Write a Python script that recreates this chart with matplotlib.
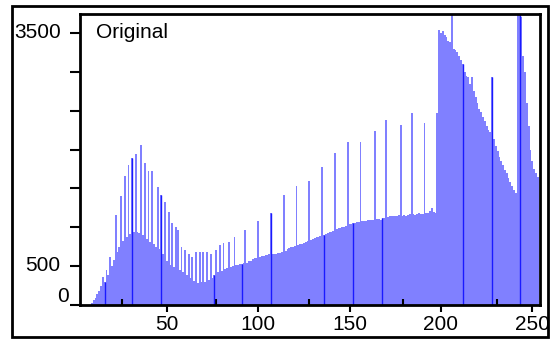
import matplotlib
matplotlib.use('Agg')
import matplotlib.pyplot as plt
import matplotlib.transforms as mtransforms
from matplotlib.patches import Rectangle
import numpy as np

plt.rcParams['font.family'] = ['Liberation Sans', 'DejaVu Sans']

# histogram counts for grey levels 0..255
counts = [
    0, 0, 0, 0, 0, 0, 0, 0, 0, 30,
    60, 90, 140, 180, 250, 360, 300, 450, 380, 620,
    500, 580, 1160, 680, 740, 1400, 820, 1660, 870, 1800,
    910, 1890, 940, 1940, 940, 930, 2060, 900, 1830, 850,
    1725, 810, 1720, 780, 750, 1520, 720, 1420, 660, 1325,
    560, 1200, 510, 1060, 490, 1000, 965, 450, 750, 420,
    710, 380, 660, 350, 620, 310, 686, 280, 686, 290,
    686, 300, 680, 320, 650, 350, 380, 708, 420, 772,
    440, 800, 460, 470, 815, 490, 500, 870, 510, 520,
    525, 530, 535, 965, 545, 560, 570, 590, 600, 610,
    1085, 620, 630, 635, 640, 645, 650, 1180, 655, 660,
    655, 665, 670, 680, 1416, 700, 720, 730, 740, 750,
    760, 1530, 775, 780, 790, 800, 810, 820, 1600, 840,
    850, 860, 870, 880, 890, 1776, 905, 915, 925, 935,
    945, 955, 1956, 975, 985, 990, 1000, 1010, 1020, 2100,
    1040, 1045, 1055, 1060, 1065, 1070, 2100, 1080, 1085, 1080,
    1090, 1095, 1090, 1100, 2240, 1105, 1110, 1100, 1115, 1125,
    2380, 1135, 1140, 1150, 1140, 1150, 1145, 1155, 2316, 1150,
    1160, 1150, 1160, 1165, 2470, 1170, 1160, 1175, 1180, 1170,
    1175, 2340, 1180, 1190, 1210, 1250, 1200, 1190, 2470, 3540,
    3500, 3520, 3480, 3450, 3400, 3380, 4000, 3300, 3280, 3250,
    3200, 3150, 3100, 3000, 2950, 2930, 2850, 2930, 2750, 2680,
    2600, 2520, 2480, 2420, 2370, 2300, 2250, 2220, 2930, 2130,
    2050, 1980, 1900, 1850, 1800, 1740, 1700, 1640, 1580, 1530,
    1480, 1440, 4200, 4000, 3700, 3200, 3000, 2600, 2300, 2000,
    1850, 1750, 1700, 1650, 0, 0,
]
grey = np.arange(len(counts))

# bins that show up as dark seams in the original rendering
dark_bins = [16, 31, 47, 76, 91, 107, 136, 152, 168, 212, 228, 243]

x_major = [50, 100, 150, 200, 250]
x_minor = [25.6, 76.8, 128, 179.2, 230.4]
y_ticks = [0, 500, 1000, 1500, 2000, 2500, 3000, 3500]
y_labels = ['0', '500', '', '', '', '', '', '3500']

fig = plt.figure(figsize=(5.5, 3.39), dpi=100)
ax = fig.add_axes([80 / 550, 34 / 339, 460 / 550, 291 / 339])

ax.bar(grey, counts, width=1.0, color='#8080ff', linewidth=0)
ax.vlines(dark_bins, 0, [counts[b] for b in dark_bins], colors='#1a1aff', linewidth=1)

ax.set_xlim(2.5, 254.2)
ax.set_ylim(0, 3745)

ax.set_xticks(x_major)
ax.set_xticks(x_minor, minor=True)
ax.set_yticks(y_ticks)
ax.set_yticklabels(y_labels)

ax.tick_params(axis='x', which='major', direction='out', length=5, width=1.5, labelsize=15, pad=2)
ax.tick_params(axis='x', which='minor', direction='in', length=4, width=1.5)
ax.tick_params(axis='y', which='major', direction='out', length=7, width=1.5, labelsize=15, pad=7)

for s in ax.spines.values():
    s.set_linewidth(2)

# small nudges on the y labels like the original
for lab in ax.get_yticklabels():
    if lab.get_text() == '0':
        off = mtransforms.ScaledTranslation(0.08, 0.10, fig.dpi_scale_trans)
    else:
        off = mtransforms.ScaledTranslation(0, 0.03, fig.dpi_scale_trans)
    lab.set_transform(lab.get_transform() + off)

ax.text(0.035, 0.935, 'Original', transform=ax.transAxes, fontsize=15, ha='left', va='center')

# outer frame round the whole chart
fig.patches.append(Rectangle((12 / 550, 2 / 339), 536 / 550, 331 / 339, transform=fig.transFigure,
                             fill=False, edgecolor='black', linewidth=2))

fig.savefig('out.png', dpi=100)
